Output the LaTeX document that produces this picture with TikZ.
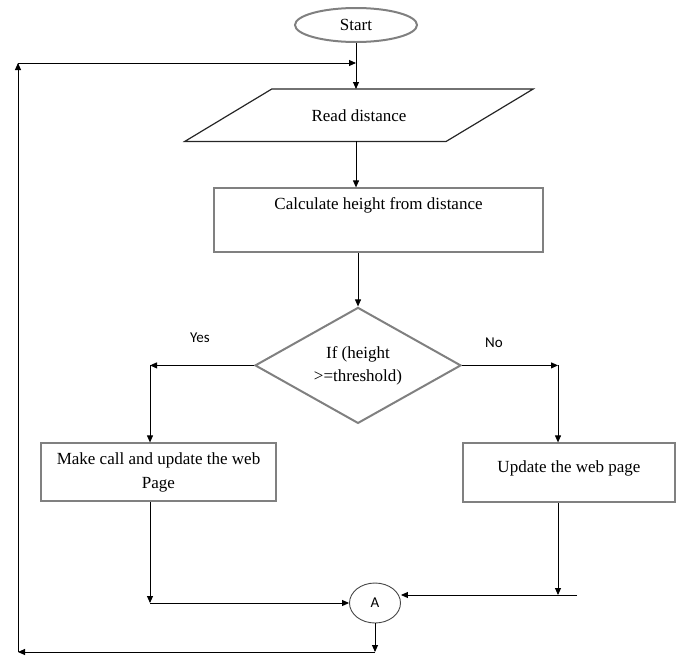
\documentclass[tikz,border=0pt]{standalone}
\usepackage{fontspec}
\setmainfont{Liberation Serif}
\newfontfamily\carlito{Carlito}
\usetikzlibrary{arrows.meta, positioning, shapes.geometric}
\definecolor{GrisCadre}{RGB}{128,128,128}
\definecolor{GrisFonce}{RGB}{70,70,70}
\tikzset{boite/.style={rectangle, draw=GrisCadre, line width=2pt,
  align=center, inner sep=2pt, font=\fontsize{17}{24}\selectfont}}
\tikzset{debut/.style={ellipse, draw=GrisCadre, line width=2pt,
  minimum width=122pt, minimum height=34pt, font=\fontsize{17}{24}\selectfont}}
\tikzset{lecture/.style={rectangle, minimum width=261pt, minimum height=52pt,
  font=\fontsize{17}{24}\selectfont}}
\tikzset{bord/.style={draw=black!85, line width=1.2pt, line join=miter}}
\tikzset{test/.style={diamond, draw=GrisCadre, line width=2pt, inner sep=0pt,
  aspect=1.8, minimum width=206pt, minimum height=116pt, align=center,
  font=\fontsize{17}{23}\selectfont}}
\tikzset{renvoi/.style={ellipse, draw=GrisFonce, line width=0.9pt,
  minimum width=51pt, minimum height=40pt, inner sep=0pt,
  font=\carlito\fontsize{15}{18}\selectfont}}
\tikzset{rep/.style={font=\carlito\fontsize{15}{18}\selectfont}}
\tikzset{fl/.style={-{Triangle[length=7pt, width=6pt]}, draw=black, line width=0.9pt}}

\begin{document}
\begin{tikzpicture}
\useasboundingbox (0,0) rectangle (677pt,-659pt);
\node[debut] (start) at (356pt,-25pt) {Start};
\node[lecture, below=46pt of start, xshift=3pt] (read) {Read distance};
\draw[bord] ([xshift=43.5pt]read.north west) -- ([xshift=43.5pt]read.north east)
  -- ([xshift=-43.5pt]read.south east) -- ([xshift=-43.5pt]read.south west) -- cycle;
\node[boite, below=46pt of read, xshift=19.5pt, minimum width=329pt,
  minimum height=64pt, text depth=33pt] (calc) {Calculate height from distance};
\node[test, below=53pt of calc, xshift=-20.5pt] (dec) {If (height\\>=threshold)};
\node[boite, below=18pt of dec, xshift=-199.5pt, minimum width=235pt,
  minimum height=58pt] (makecall) {Make call and update the web\\Page};
\node[boite, below=18pt of dec, xshift=211pt, minimum width=212pt,
  minimum height=59pt, text depth=13pt] (update) {Update the web page};
\node[renvoi] (A) at (375pt,-603pt) {A};
\node[rep] (oui) at (200pt,-338pt) {Yes};
\node[rep] (non) at (494pt,-343pt) {No};
\coordinate[left=104pt of dec.west] (ycoin);
\coordinate[right=96pt of dec.east] (ncoin);
\coordinate (jr) at (577pt,-595pt);
\coordinate (bas) at (18pt,-652pt);
\coordinate (haut) at (18pt,-63pt);
% main flow
\draw[fl] (start.south) -- (start.south |- read.north);
\draw[fl] (start.south |- read.south) -- (start.south |- calc.north);
\draw[fl] (dec.north |- calc.south) -- (dec.north);
% branches
\draw[fl] (dec.west) -- (ycoin);
\draw[fl] (ycoin) -- (ycoin |- makecall.north);
\draw[fl] (dec.east) -- (ncoin);
\draw[fl] (ncoin) -- (ncoin |- update.north);
\draw[fl] (ycoin |- makecall.south) -- (ycoin |- A.west);
\draw[fl] (ycoin |- A.west) -- (A.west);
\draw[fl] (ncoin |- update.south) -- (ncoin |- jr);
\draw[fl] (jr) -- (A.east |- jr);
% back to the top
\draw[fl] (A.south) -- (A.south |- bas);
\draw[fl] (A.south |- bas) -- (bas);
\draw[fl] (bas) -- (haut);
\draw[fl] (haut) -- (haut -| start.south);
\end{tikzpicture}
\end{document}
